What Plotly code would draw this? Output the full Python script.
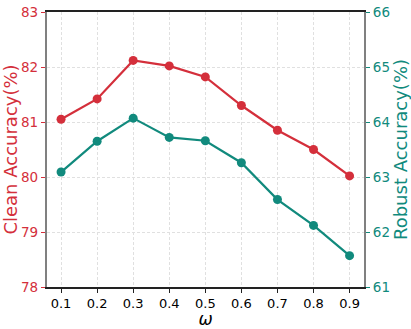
import plotly.graph_objects as go

# dados
omega = [0.1, 0.2, 0.3, 0.4, 0.5, 0.6, 0.7, 0.8, 0.9]
clean_acc = [81.05, 81.42, 82.12, 82.02, 81.82, 81.30, 80.85, 80.50, 80.02]
robust_acc = [63.09, 63.65, 64.07, 63.72, 63.66, 63.26, 62.59, 62.12, 61.57]
x_ticks = [0.1, 0.2, 0.3, 0.4, 0.5, 0.6, 0.7, 0.8, 0.9]
clean_ticks = [78, 79, 80, 81, 82, 83]
robust_ticks = [61, 62, 63, 64, 65, 66]

RED = "#d42f3b"
TEAL = "#118a7d"
FONT = "DejaVu Sans"

fig = go.Figure()

fig.add_trace(go.Scatter(
    x=omega, y=clean_acc, mode="lines+markers",
    line=dict(color=RED, width=2.2),
    marker=dict(color=RED, size=9),
    yaxis="y", showlegend=False
))

fig.add_trace(go.Scatter(
    x=omega, y=robust_acc, mode="lines+markers",
    line=dict(color=TEAL, width=2.2),
    marker=dict(color=TEAL, size=9),
    yaxis="y2", showlegend=False
))

grid = dict(showgrid=True, gridcolor="#e0e0e0", griddash="3px,2px", gridwidth=0.8)

fig.update_layout(
    width=411, height=329,
    margin=dict(l=47, r=47, t=12, b=42, autoexpand=False),
    plot_bgcolor="white", paper_bgcolor="white",
    font=dict(family=FONT, size=13, color="black"),
    xaxis=dict(
        range=[0.061, 0.94], tickvals=x_ticks,
        ticktext=[f"{v:.1f}" for v in x_ticks],
        showline=True, linecolor="#222222", linewidth=1.5, mirror=True,
        ticks="outside", ticklen=4, tickcolor="#222222",
        tickfont=dict(size=13),
        title=dict(text="<i>ω</i>", font=dict(size=17), standoff=4),
        automargin=False, zeroline=False, **grid
    ),
    yaxis=dict(
        range=[78, 83], tickvals=clean_ticks,
        showline=True, linecolor="#808080", linewidth=2.2,
        ticks="outside", ticklen=4, tickcolor=RED,
        tickfont=dict(color=RED, size=13.5),
        title=dict(text="Clean Accuracy(%)", font=dict(color=RED, size=18), standoff=2),
        automargin=False, zeroline=False, **grid
    ),
    yaxis2=dict(
        range=[61, 66], tickvals=robust_ticks,
        overlaying="y", side="right",
        showline=True, linecolor="#808080", linewidth=2.2,
        ticks="outside", ticklen=4, tickcolor=TEAL,
        tickfont=dict(color=TEAL, size=13.5),
        title=dict(text="Robust Accuracy(%)", font=dict(color=TEAL, size=18), standoff=1),
        automargin=False, showgrid=False, zeroline=False
    ),
)

# a página tem margem de 8px no body; zera para o gráfico caber na janela
fig.write_html("out.html", config={"displayModeBar": False},
               post_script="document.body.style.margin='0';")
